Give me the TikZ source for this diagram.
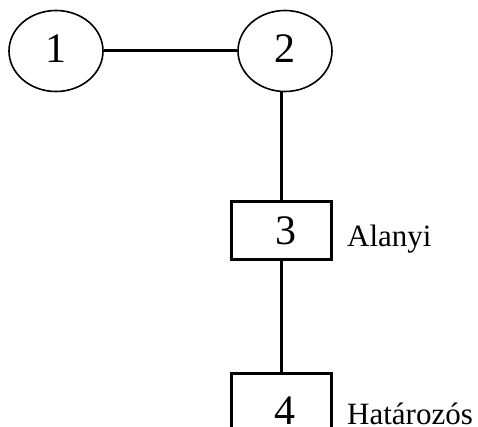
\documentclass[tikz,border=0pt]{standalone}
\usepackage{fontspec}
\setmainfont{Liberation Serif}
\usetikzlibrary{shapes.geometric}
\begin{document}
\begin{tikzpicture}[x=1pt,y=-1pt,
  oval/.style={ellipse,draw,line width=1.6pt,minimum width=94pt,minimum height=81pt,inner sep=0pt,font=\fontsize{42}{42}\selectfont},
  box/.style={rectangle,draw,line width=3pt,minimum width=100pt,inner sep=0pt,font=\fontsize{42}{42}\selectfont},
  digit/.style={inner sep=0pt,text depth=0pt,font=\fontsize{42}{42}\selectfont},
  conn/.style={line width=3pt},
  lab/.style={anchor=base west,inner sep=0pt,text depth=0pt,font=\fontsize{31}{31}\selectfont}]
\useasboundingbox (0,0) rectangle (478,427);
\clip (0,0) rectangle (478,427);
\node[oval] (e1) at (56,51) {\raisebox{4pt}{1}};
\node[oval] (e2) at (285,51) {\raisebox{4pt}{2}};
\node[box,minimum height=57pt] (b3) at (281.5,230.5) {\hspace*{8pt}3};
\node[box,minimum height=76pt] (b4) at (281.5,411) {};
\node[digit] (n4) at (285,411) {4};
\node[lab] (l3) at (347,246) {Alanyi};
\node[lab] (l4) at (347,424) {Határozós};
\draw[conn] (e1.east) -- (e2.west);
\draw[conn] (b3.north |- e2.south) -- (b3.north);
\draw[conn] (b3.south) -- (b4.north);
\end{tikzpicture}
\end{document}
